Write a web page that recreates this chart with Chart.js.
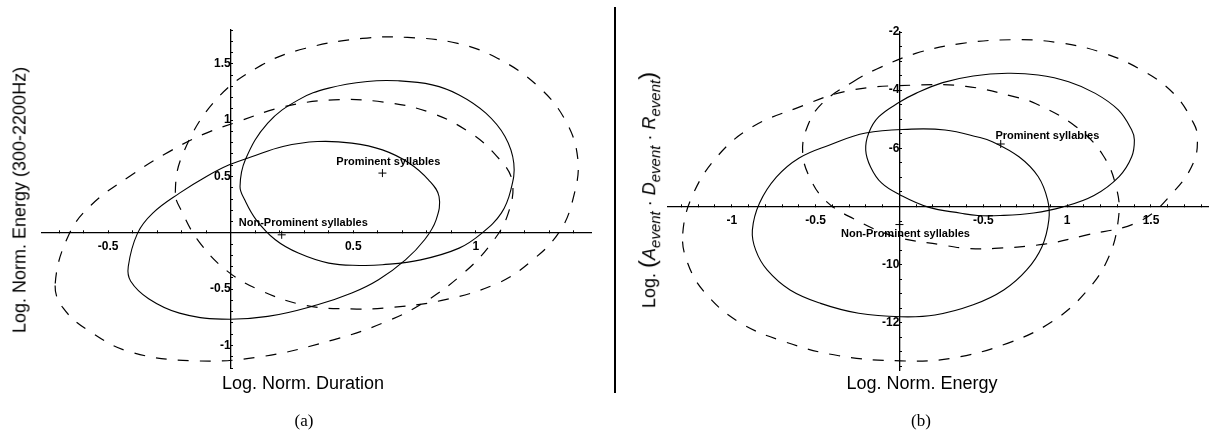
<!DOCTYPE html>
<html>
<head>
<meta charset="utf-8">
<script src="https://cdn.jsdelivr.net/npm/chart.js@4.4.0/dist/chart.umd.min.js"></script>
<style>
  body { margin: 0; background: #fff; width: 1213px; height: 437px; position: relative; overflow: hidden;
         font-family: "Liberation Sans", Arial, sans-serif; color: #000; }
  canvas { position: absolute; top: 0; }
  #chartA { left: 0; }
  #chartB { left: 620px; }
  .title { position: absolute; font-size: 18px; white-space: nowrap; transform: translate(-50%, -50%); }
  .vtitle { transform: translate(-50%, -50%) rotate(-90deg); }
  .cap { position: absolute; font-family: "Liberation Serif", "Times New Roman", serif; font-size: 17px;
         transform: translate(-50%, -50%); }
  .big { font-size: 24px; }
  sub { font-style: italic; }
  #sep { position: absolute; left: 614px; top: 7px; width: 2px; height: 386px; background: #000; }
</style>
</head>
<body>
<canvas id="chartA" width="610" height="437"></canvas>
<canvas id="chartB" width="593" height="437"></canvas>
<div id="sep"></div>
<div class="title" style="left:303px; top:383px;">Log. Norm. Duration</div>
<div class="title vtitle" style="left:20px; top:200px;">Log. Norm. Energy (300-2200Hz)</div>
<div class="title" style="left:922px; top:383px;">Log. Norm. Energy</div>
<div class="title vtitle" style="left:648px; top:190px;">Log. <span class="big">(</span><i>A</i><sub>event</sub> · <i>D</i><sub>event</sub> · <i>R</i><sub>event</sub><span class="big">)</span></div>
<div class="cap" style="left:304px; top:421px;">(a)</div>
<div class="cap" style="left:921px; top:421px;">(b)</div>
<script>
// ---- panel (a): duration vs energy (300-2200Hz) ----
const promSolidA = [[0.038,0.411],[0.060,0.650],[0.151,0.973],[0.276,1.180],[0.400,1.284],[0.557,1.343],[0.682,1.349],[0.822,1.313],[0.932,1.224],[1.041,1.062],[1.119,0.855],[1.155,0.618],[1.143,0.382],[1.104,0.175],[1.025,-0.003],[0.932,-0.136],[0.775,-0.240],[0.619,-0.284],[0.525,-0.290],[0.400,-0.269],[0.276,-0.180],[0.182,-0.062],[0.104,0.115],[0.057,0.293]];
const nonSolidA = [[-0.418,-0.299],[-0.380,-0.003],[-0.318,0.175],[-0.209,0.352],[-0.099,0.500],[-0.006,0.603],[0.088,0.677],[0.213,0.766],[0.354,0.810],[0.494,0.796],[0.619,0.736],[0.729,0.618],[0.807,0.470],[0.850,0.322],[0.838,0.115],[0.791,-0.062],[0.713,-0.240],[0.603,-0.417],[0.494,-0.535],[0.354,-0.639],[0.151,-0.742],[-0.037,-0.766],[-0.209,-0.713],[-0.335,-0.585],[-0.408,-0.430]];
const promDashA = [[-0.226,0.355],[-0.194,0.706],[-0.060,1.181],[0.124,1.486],[0.306,1.638],[0.537,1.725],[0.721,1.734],[0.926,1.681],[1.088,1.550],[1.248,1.312],[1.363,1.008],[1.416,0.659],[1.398,0.312],[1.341,0.008],[1.225,-0.254],[1.088,-0.449],[0.857,-0.602],[0.628,-0.667],[0.490,-0.675],[0.306,-0.645],[0.124,-0.514],[-0.014,-0.340],[-0.129,-0.080],[-0.198,0.182]];
const nonDashA = [[-0.716,-0.450],[-0.660,-0.015],[-0.569,0.247],[-0.409,0.507],[-0.247,0.725],[-0.110,0.876],[0.028,0.985],[0.212,1.116],[0.419,1.180],[0.625,1.160],[0.808,1.072],[0.970,0.898],[1.085,0.681],[1.148,0.463],[1.130,0.159],[1.061,-0.101],[0.947,-0.363],[0.785,-0.623],[0.625,-0.797],[0.419,-0.950],[0.120,-1.101],[-0.156,-1.136],[-0.409,-1.058],[-0.569,-0.884],[-0.684,-0.667]];
const meansA = [[0.619,0.53],[0.208,-0.018]];
const labelPosA = [[0.643,0.625],[0.296,0.089]];
const xTicksA = [-0.5, 0.5, 1];
const xTickLabelsA = ['-0.5', '0.5', '1'];
const yTicksA = [1.5, 1, 0.5, -0.5, -1];
const yTickLabelsA = ['1.5', '1', '0.5', '-0.5', '-1'];

// ---- panel (b): energy vs log(A*D*R) ----
const promSolidB = [[0.004,-4.40],[0.098,-4.11],[0.258,-3.74],[0.44,-3.51],[0.645,-3.42],[0.827,-3.48],[1.009,-3.71],[1.168,-4.11],[1.305,-4.68],[1.385,-5.37],[1.401,-5.71],[1.385,-6.29],[1.310,-6.97],[1.160,-7.62],[0.97,-8.02],[0.80,-8.22],[0.600,-8.31],[0.467,-8.31],[0.367,-8.23],[0.172,-8.02],[0.004,-7.60],[-0.107,-7.19],[-0.172,-6.64],[-0.201,-6.06],[-0.183,-5.47],[-0.124,-4.92]];
const nonSolidB = [[-0.877,-8.81],[-0.834,-7.88],[-0.734,-6.99],[-0.598,-6.33],[-0.420,-5.89],[-0.201,-5.47],[0.071,-5.34],[0.272,-5.37],[0.467,-5.61],[0.554,-5.77],[0.713,-6.29],[0.827,-6.97],[0.884,-7.78],[0.891,-8.46],[0.850,-9.38],[0.759,-10.18],[0.622,-10.87],[0.440,-11.38],[0.212,-11.73],[0.008,-11.79],[-0.243,-11.67],[-0.470,-11.33],[-0.652,-10.87],[-0.789,-10.18],[-0.857,-9.50]];
const promDashB = [[-0.276,-3.707],[-0.138,-3.280],[0.097,-2.737],[0.365,-2.398],[0.666,-2.266],[0.934,-2.354],[1.201,-2.692],[1.435,-3.280],[1.636,-4.118],[1.754,-5.133],[1.777,-5.632],[1.754,-6.485],[1.636,-7.485],[1.435,-8.499],[1.100,-8.999],[0.865,-9.293],[0.566,-9.440],[0.404,-9.440],[0.257,-9.322],[-0.029,-9.028],[-0.276,-8.411],[-0.439,-7.808],[-0.535,-6.999],[-0.577,-6.147],[-0.551,-5.280],[-0.464,-4.471]];
const nonDashB = [[-1.292,-8.925],[-1.229,-7.558],[-1.082,-6.250],[-0.882,-5.280],[-0.621,-4.633],[-0.299,-4.015],[0.101,-3.824],[0.397,-3.868],[0.683,-4.221],[0.811,-4.456],[1.045,-5.221],[1.212,-6.220],[1.296,-7.411],[1.306,-8.411],[1.246,-9.763],[1.112,-10.939],[0.911,-11.953],[0.644,-12.703],[0.308,-13.218],[0.008,-13.306],[-0.361,-13.129],[-0.694,-12.630],[-0.962,-11.953],[-1.163,-10.939],[-1.263,-9.939]];
const meansB = [[0.604,-5.85],[0.0,-8.62]];
const labelPosB = [[0.882,-5.58],[0.036,-8.955]];
const xTicksB = [-1, -0.5, 0.5, 1, 1.5];
const xTickLabelsB = ['-1', '-0.5', '-0.5', '1', '1.5'];
const yTicksB = [-2, -4, -6, -10, -12];
const yTickLabelsB = ['-2', '-4', '-6', '-10', '-12'];

const groupNames = ['Prominent syllables', 'Non-Prominent syllables'];

// repeat the neighbours at both ends so the spline closes smoothly,
// the two extra segments are drawn transparent
function ellipse(points, dashed) {
  const n = points.length;
  const wrapped = [points[n - 1]].concat(points, [points[0], points[1]]);
  const last = wrapped.length - 1;
  return {
    data: wrapped.map(p => ({x: p[0], y: p[1]})),
    showLine: true,
    borderColor: '#000',
    borderWidth: dashed ? 1.2 : 1.1,
    borderDash: dashed ? [11, 11] : [],
    pointRadius: 0,
    pointHoverRadius: 0,
    tension: 0.4,
    segment: {
      borderColor: ctx => (ctx.p0DataIndex === 0 || ctx.p1DataIndex === last) ? 'rgba(0,0,0,0)' : undefined
    }
  };
}

function means(points) {
  return {
    data: points.map(p => ({x: p[0], y: p[1]})),
    showLine: false,
    pointStyle: 'cross',
    pointRadius: 4,
    borderColor: '#000',
    borderWidth: 1
  };
}

function lookup(values, labels) {
  return v => {
    const i = values.findIndex(t => Math.abs(t - v) < 1e-6);
    return i >= 0 ? labels[i] : '';
  };
}

const tickFont = {family: '"Liberation Sans", Arial, sans-serif', size: 12, weight: 'bold'};

function axis(min, max, step, pos, values, labels, horizontal) {
  return {
    type: 'linear',
    min: min,
    max: max,
    position: pos,
    border: {display: true, color: '#000', width: 1.3},
    grid: {display: true, drawOnChartArea: false, drawTicks: true, tickLength: -3, color: '#000', lineWidth: 1},
    ticks: {
      stepSize: step,
      autoSkip: false,
      includeBounds: false,
      maxRotation: 0,
      padding: horizontal ? 10 : 4,
      color: '#000',
      font: tickFont,
      callback: lookup(values, labels)
    },
    afterFit: s => { if (horizontal) s.height = 0; else s.width = 0; }
  };
}

const groupLabels = {
  id: 'groupLabels',
  afterDatasetsDraw(chart, args, opts) {
    const ctx = chart.ctx;
    ctx.save();
    ctx.font = 'bold 11px "Liberation Sans", Arial, sans-serif';
    ctx.fillStyle = '#000';
    ctx.textAlign = 'center';
    ctx.textBaseline = 'middle';
    opts.positions.forEach((p, i) => {
      ctx.fillText(groupNames[i], chart.scales.x.getPixelForValue(p[0]), chart.scales.y.getPixelForValue(p[1]));
    });
    ctx.restore();
  }
};

function makeChart(id, sets, mean, labelPos, xr, yr, padding) {
  new Chart(document.getElementById(id), {
    type: 'scatter',
    data: {
      datasets: [
        ellipse(sets[0], false),
        ellipse(sets[1], false),
        ellipse(sets[2], true),
        ellipse(sets[3], true),
        means(mean)
      ]
    },
    options: {
      responsive: false,
      animation: false,
      devicePixelRatio: 1,
      layout: {padding: padding},
      scales: {
        x: axis(xr.min, xr.max, xr.step, {y: xr.cross}, xr.values, xr.labels, true),
        y: axis(yr.min, yr.max, yr.step, {x: 0}, yr.values, yr.labels, false)
      },
      plugins: {
        legend: {display: false},
        tooltip: {enabled: false},
        groupLabels: {positions: labelPos}
      }
    },
    plugins: [groupLabels]
  });
}

makeChart('chartA', [promSolidA, nonSolidA, promDashA, nonDashA], meansA, labelPosA,
  {min: -0.77, max: 1.47, step: 0.1, cross: 0, values: xTicksA, labels: xTickLabelsA},
  {min: -1.2, max: 1.8, step: 0.1, values: yTicksA, labels: yTickLabelsA},
  {left: 42, right: 19, top: 30, bottom: 69});

makeChart('chartB', [promSolidB, nonSolidB, promDashB, nonDashB], meansB, labelPosB,
  {min: -1.38, max: 1.84, step: 0.1, cross: -8, values: xTicksB, labels: xTickLabelsB},
  {min: -13.62, max: -2, step: 0.5, values: yTicksB, labels: yTickLabelsB},
  {left: 48, right: 1, top: 32, bottom: 67});
</script>
</body>
</html>
